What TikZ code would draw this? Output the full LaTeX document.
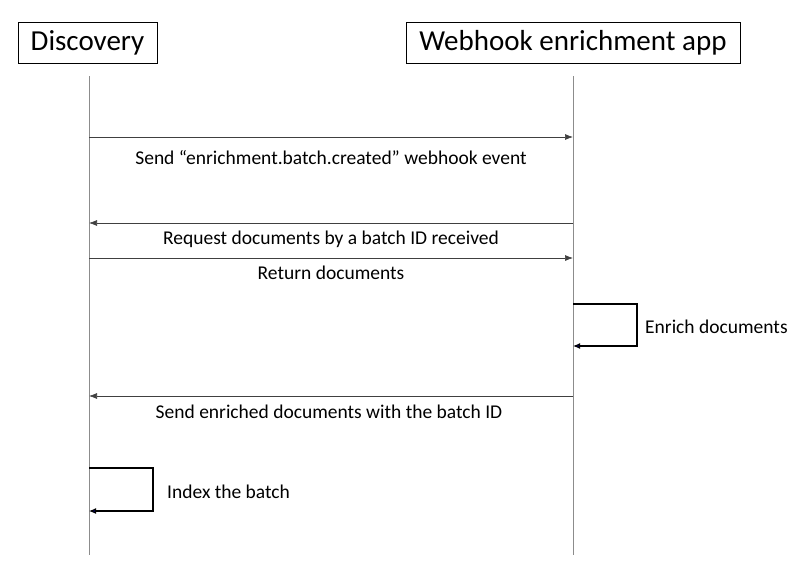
\documentclass[tikz,border=0pt]{standalone}
\usepackage{fontspec}
\setmainfont{Carlito}
\usetikzlibrary{arrows.meta}
\begin{document}
\begin{tikzpicture}[x=1pt,y=-1pt,
  actor/.style={draw=black,line width=1pt,inner sep=0pt,font=\fontsize{29}{31}\selectfont},
  life/.style={draw=black!45,line width=0.8pt},
  msg/.style={draw=black!75,line width=0.7pt,-{Latex[length=8pt,width=6pt]}},
  selfmsg/.style={draw=black,line width=1.1pt,-{Latex[length=7pt,width=6pt,fill=blue!40!black]}},
  lbl/.style={font=\fontsize{19.5}{21}\selectfont,inner sep=0pt}]
\useasboundingbox (0,0) rectangle (800,576);
\node[actor,minimum width=139pt,minimum height=41pt] (disc) at (87.5,42.5) {Discovery};
\node[actor,minimum width=334pt,minimum height=41pt] (hook) at (573,42.5) {Webhook enrichment app};
% lifelines
\coordinate (dtop) at (89,76);
\coordinate (dbot) at (89,555);
\coordinate (htop) at (573,76);
\coordinate (hbot) at (573,555);
\draw[life] (dtop) -- (dbot);
\draw[life] (htop) -- (hbot);
% message points
\coordinate (d1) at (89,137);  \coordinate (h1) at (573,137);
\coordinate (d2) at (89,223);  \coordinate (h2) at (573,223);
\coordinate (d3) at (89,258);  \coordinate (h3) at (573,258);
\coordinate (h4a) at (573,304); \coordinate (h4b) at (573,346);
\coordinate (d5) at (89,396);  \coordinate (h5) at (573,396);
\coordinate (d6a) at (89,468); \coordinate (d6b) at (89,511);
\draw[msg] (d1) -- (h1);
\node[lbl] (l1) at (331,158) {Send “enrichment.batch.created” webhook event};
\draw[msg] (h2) -- (d2);
\node[lbl] (l2) at (331,239) {Request documents by a batch ID received};
\draw[msg] (d3) -- (h3);
\node[lbl] (l3) at (331,273) {Return documents};
\draw[selfmsg] (h4a) -- ++(64,0) |- (h4b);
\node[lbl,anchor=west] (l4) at (645,327) {Enrich documents};
\draw[msg] (h5) -- (d5);
\node[lbl] (l5) at (329,412) {Send enriched documents with the batch ID};
\draw[selfmsg] (d6a) -- ++(64,0) |- (d6b);
\node[lbl,anchor=west] (l6) at (167,492) {Index the batch};
\end{tikzpicture}
\end{document}
